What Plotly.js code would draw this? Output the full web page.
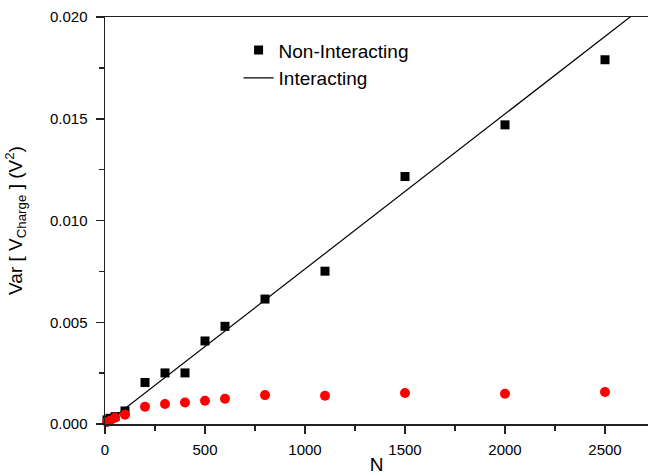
<!DOCTYPE html>
<html>
<head>
<meta charset="utf-8">
<script src="https://cdn.plot.ly/plotly-3.0.1.min.js"></script>
<style>html,body{margin:0;padding:0;background:#fff;}#chart{width:648px;height:475px;}</style>
</head>
<body>
<div id="chart"></div>
<script>
// Non-Interacting (black squares)
const nonIntN = [10, 25, 50, 100, 200, 300, 400, 500, 600, 800, 1100, 1500, 2000, 2500];
const nonIntVar = [0.0002, 0.00028, 0.00036, 0.00064, 0.00204, 0.00251, 0.00251, 0.00408, 0.0048, 0.00614, 0.00751, 0.01216, 0.0147, 0.0179];
// Interacting (red circles)
const intN = [10, 25, 50, 100, 200, 300, 400, 500, 600, 800, 1100, 1500, 2000, 2500];
const intVar = [0.0001, 0.00016, 0.00031, 0.00046, 0.00085, 0.00098, 0.00106, 0.00114, 0.00124, 0.00142, 0.00139, 0.00152, 0.00149, 0.00157];
// Reference line labelled "Interacting"
const lineN = [0, 2750];
const lineVar = [0, 0.02095];

const xTicks = [0, 500, 1000, 1500, 2000, 2500];
const yTicks = [0, 0.005, 0.010, 0.015, 0.020];

const traces = [
  {x: nonIntN, y: nonIntVar, type: 'scatter', mode: 'markers', name: 'Non-Interacting',
   marker: {symbol: 'square', size: 9, color: '#000'}, cliponaxis: false},
  {x: lineN, y: lineVar, type: 'scatter', mode: 'lines', name: 'Interacting',
   line: {color: '#000', width: 1.2}},
  {x: intN, y: intVar, type: 'scatter', mode: 'markers', name: 'Interacting data', showlegend: false,
   marker: {symbol: 'circle', size: 10, color: '#ff0000'}, cliponaxis: false}
];

const font = {family: 'Liberation Sans, Arial, sans-serif', color: '#000'};

const layout = {
  width: 648, height: 475,
  margin: {l: 105, r: 0, t: 17, b: 51},
  paper_bgcolor: '#fff', plot_bgcolor: '#fff',
  font: font,
  showlegend: true,
  legend: {x: 0.246, y: 0.965, xanchor: 'left', yanchor: 'top', bgcolor: 'rgba(0,0,0,0)',
           font: {family: font.family, size: 19, color: '#000'}, tracegroupgap: 0},
  xaxis: {
    range: [0, 2715], tickvals: xTicks, ticktext: xTicks.map(String),
    showgrid: false, zeroline: false, showline: true, linecolor: '#222', linewidth: 1.5,
    mirror: true, ticks: 'outside', ticklen: 8, tickwidth: 1.5, tickcolor: '#222',
    ticklabelstandoff: 3,
    minor: {dtick: 250, ticks: 'outside', ticklen: 5, tickwidth: 1.5, tickcolor: '#222'},
    tickfont: {family: font.family, size: 15, color: '#000'},
    title: {text: 'N', font: {family: font.family, size: 19, color: '#000'}, standoff: 5}
  },
  yaxis: {
    range: [0, 0.020], tickvals: yTicks, ticktext: yTicks.map(v => v.toFixed(3)),
    showgrid: false, zeroline: false, showline: true, linecolor: '#222', linewidth: 1.5,
    mirror: false, ticks: 'outside', ticklen: 8, tickwidth: 1.5, tickcolor: '#222',
    ticklabelstandoff: 5,
    minor: {dtick: 0.0025, ticks: 'outside', ticklen: 5, tickwidth: 1.5, tickcolor: '#222'},
    tickfont: {family: font.family, size: 15, color: '#000'},
    title: {text: 'Var [ V<sub>Charge</sub> ] (V<sup>2</sup>)', font: {family: font.family, size: 19, color: '#000'}, standoff: 22}
  }
};

Plotly.newPlot('chart', traces, layout, {displayModeBar: false, staticPlot: true});
</script>
</body>
</html>
